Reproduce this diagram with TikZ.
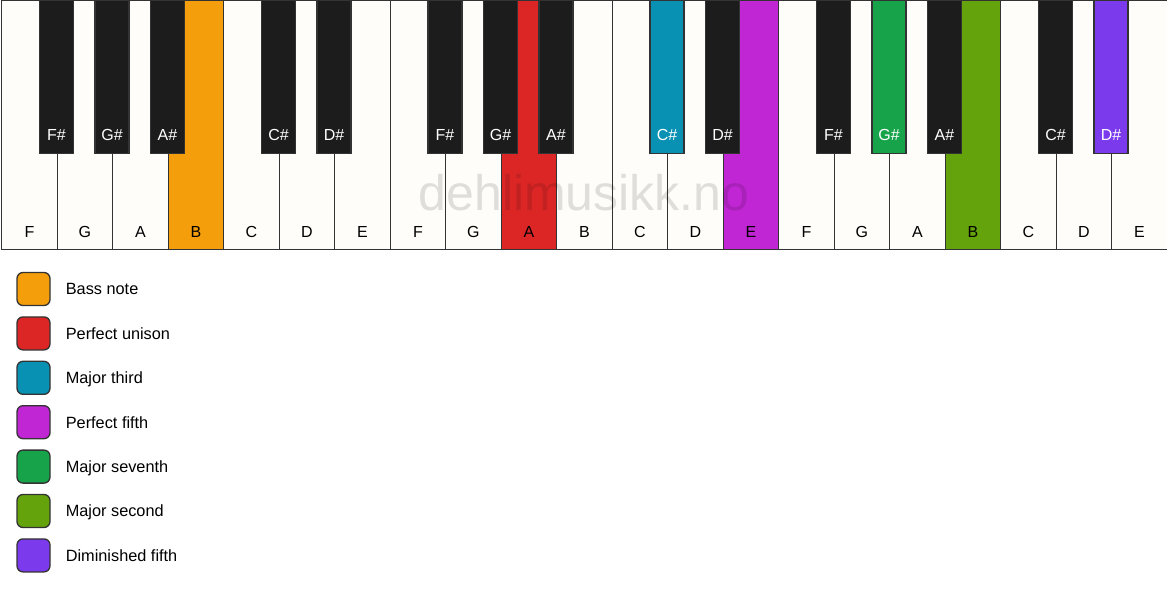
\documentclass[tikz,border=0pt]{standalone}
\usepackage{fontspec}
\setmainfont{Liberation Sans}
\usetikzlibrary{positioning}
\definecolor{keywhite}{HTML}{FEFDFA}
\definecolor{keyblack}{HTML}{1C1C1C}
\definecolor{keyline}{HTML}{333333}
\definecolor{bassnote}{HTML}{F59E0B}
\definecolor{unison}{HTML}{DC2626}
\definecolor{majthird}{HTML}{0891B2}
\definecolor{perffifth}{HTML}{C026D3}
\definecolor{majseventh}{HTML}{16A34A}
\definecolor{majsecond}{HTML}{65A30D}
\definecolor{dimfifth}{HTML}{7C3AED}
\tikzset{
  whitekey/.style={draw=keyline, line width=1.3pt, minimum width=55.5pt, minimum height=249pt, inner sep=0pt, anchor=north west},
  blackkey/.style={draw=keyline, line width=1.3pt, minimum width=34pt, minimum height=153pt, inner sep=0pt, anchor=north},
  keylabel/.style={font=\fontsize{16}{19}\selectfont, inner sep=0pt, text height=11.5pt, text depth=0pt},
  legendbox/.style={draw=keyline, line width=1.3pt, rounded corners=6pt, minimum size=33pt, inner sep=0pt},
  legendtext/.style={font=\fontsize{16.3}{19}\selectfont, inner sep=0pt, text height=11.7pt, text depth=0pt},
  watermark/.style={font=\fontsize{50}{60}\selectfont, text=black, text opacity=0.12, inner sep=0pt}
}
\begin{document}
\begin{tikzpicture}[x=1pt, y=-1pt]
\useasboundingbox (0,0) rectangle (1167,594);
% white keys
\foreach \n/\c [count=\i from 0] in {F/keywhite, G/keywhite, A/keywhite, B/bassnote, C/keywhite, D/keywhite, E/keywhite,
  F/keywhite, G/keywhite, A/unison, B/keywhite, C/keywhite, D/keywhite, E/perffifth,
  F/keywhite, G/keywhite, A/keywhite, B/majsecond, C/keywhite, D/keywhite, E/keywhite}
{
\node[whitekey, fill=\c] (w\i) at ({1+\i*55.5},0) {};
\node[keylabel] (lw\i) at ([yshift=19pt]w\i.south) {\n};
}
% black keys
\foreach \j/\n/\c in {1/F/keyblack, 2/G/keyblack, 3/A/keyblack, 5/C/keyblack, 6/D/keyblack,
  8/F/keyblack, 9/G/keyblack, 10/A/keyblack, 12/C/majthird, 13/D/keyblack,
  15/F/keyblack, 16/G/majseventh, 17/A/keyblack, 19/C/keyblack, 20/D/dimfifth}
{
\node[blackkey, fill=\c] (b\j) at ({1+\j*55.5},0) {};
\node[keylabel, text=white] (lb\j) at ([yshift=20pt]b\j.south) {\n\#};
}
\node[watermark] (mark) at (584,193) {dehlimusikk.no};
% legend
\foreach \c/\t [count=\k from 0] in {bassnote/Bass note, unison/Perfect unison, majthird/Major third,
  perffifth/Perfect fifth, majseventh/Major seventh, majsecond/Major second, dimfifth/Diminished fifth}
{
\node[legendbox, fill=\c] (box\k) at (33.5,{289+\k*44.4}) {};
\node[legendtext, right=15pt of box\k] (txt\k) {\t};
}
\end{tikzpicture}
\end{document}
